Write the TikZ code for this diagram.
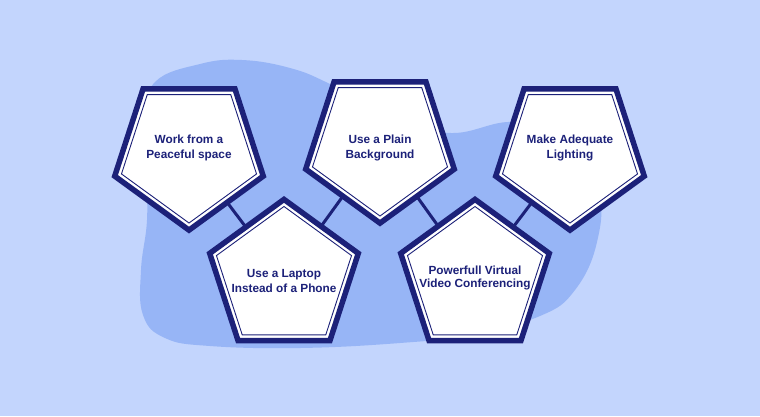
\documentclass[tikz,border=0pt]{standalone}
\usepackage{fontspec}
\setmainfont{Liberation Sans}
\usetikzlibrary{shapes.geometric}
\definecolor{bgc}{RGB}{195,213,253}
\definecolor{blobc}{RGB}{151,181,246}
\definecolor{navy}{RGB}{28,33,121}
\tikzset{
  pentout/.style={regular polygon, regular polygon sides=5, minimum size=156.2pt,
    inner sep=0pt, outer sep=0pt, draw=navy, line width=5.5pt, fill=white},
  pentin/.style={regular polygon, regular polygon sides=5, minimum size=142pt,
    inner sep=0pt, outer sep=0pt, draw=navy, line width=0.9pt},
  down/.style={shape border rotate=180},
  lbl/.style={align=center, text=navy, font=\fontsize{11.8}{15}\selectfont\bfseries, inner sep=0pt},
  link/.style={draw=navy, line width=3pt}
}
\begin{document}
\begin{tikzpicture}[x=1pt,y=-1pt]
\useasboundingbox (0,0) rectangle (760,416);
\fill[bgc] (0,0) rectangle (760,416);
\fill[blobc] plot[smooth cycle, tension=0.7] coordinates {
 (155,82) (200,64) (242,60) (290,68) (330,84) (395,118) (451,133) (514,122)
 (568,140) (598,190) (597,242) (575,290) (540,316) (470,335) (400,343)
 (300,348) (210,346) (165,338) (143,315) (141,270) (147,220) (146,170) (146,120)};
% centres
\coordinate (c1) at (189,152);
\coordinate (c2) at (284,277.5);
\coordinate (c3) at (380,145);
\coordinate (c5) at (475,277.5);
\coordinate (c4) at (570,152);
% links
\draw[link] (c1) -- (c2);
\draw[link] (c2) -- (c3);
\draw[link] (c3) -- (c5);
\draw[link] (c5) -- (c4);
% pentagons
\node[pentout,down] (p1) at (c1) {};
\node[pentin,down] (p1i) at (c1) {};
\node[pentout] (p2) at (c2) {};
\node[pentin] (p2i) at (c2) {};
\node[pentout,down] (p3) at (c3) {};
\node[pentin,down] (p3i) at (c3) {};
\node[pentout,down] (p4) at (c4) {};
\node[pentin,down] (p4i) at (c4) {};
\node[pentout] (p5) at (c5) {};
\node[pentin] (p5i) at (c5) {};
% labels
\node[lbl] (t1) at (189,147.5) {Work from a\\Peaceful space};
\node[lbl] (t2) at (284,280.5) {Use a Laptop\\Instead of a Phone};
\node[lbl] (t3) at (380,147.5) {Use a Plain\\Background};
\node[lbl] (t4) at (570,147.5) {Make Adequate\\Lighting};
\node[lbl,font=\fontsize{11.8}{13.5}\selectfont\bfseries] (t5) at (475,278) {Powerfull Virtual\\Video Conferencing};
\end{tikzpicture}
\end{document}
